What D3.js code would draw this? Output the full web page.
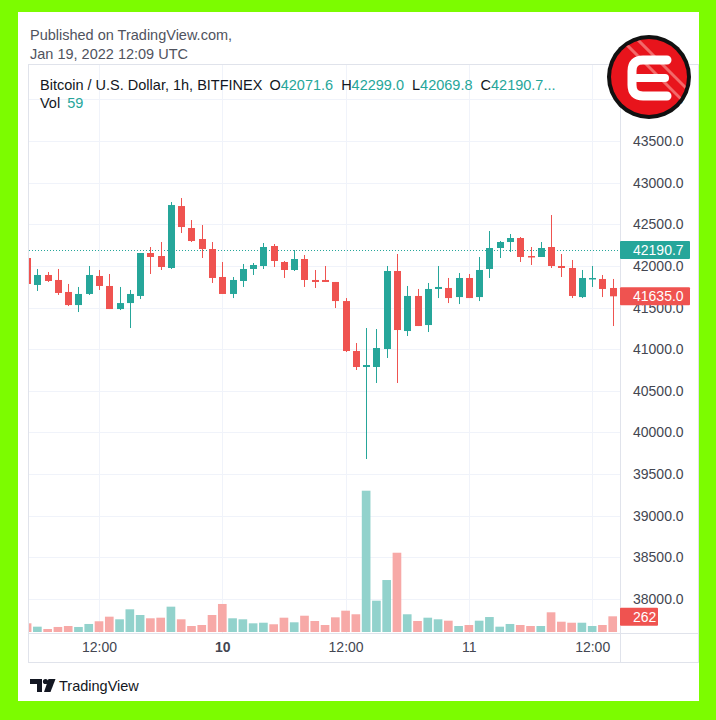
<!DOCTYPE html>
<html>
<head>
<meta charset="utf-8">
<script src="https://cdn.jsdelivr.net/npm/d3@7"></script>
<style>
  body { margin: 0; background: #7cfc00; }
  svg { display: block; }
  text { font-family: "Liberation Sans", Arial, sans-serif; }
</style>
</head>
<body>
<svg width="716" height="720"></svg>
<script>
// hourly bars, BTC/USD Bitfinex
var hours = [
  "2022-01-09T05:00Z","2022-01-09T06:00Z","2022-01-09T07:00Z","2022-01-09T08:00Z","2022-01-09T09:00Z",
  "2022-01-09T10:00Z","2022-01-09T11:00Z","2022-01-09T12:00Z","2022-01-09T13:00Z","2022-01-09T14:00Z",
  "2022-01-09T15:00Z","2022-01-09T16:00Z","2022-01-09T17:00Z","2022-01-09T18:00Z","2022-01-09T19:00Z",
  "2022-01-09T20:00Z","2022-01-09T21:00Z","2022-01-09T22:00Z","2022-01-09T23:00Z","2022-01-10T00:00Z",
  "2022-01-10T01:00Z","2022-01-10T02:00Z","2022-01-10T03:00Z","2022-01-10T04:00Z","2022-01-10T05:00Z",
  "2022-01-10T06:00Z","2022-01-10T07:00Z","2022-01-10T08:00Z","2022-01-10T09:00Z","2022-01-10T10:00Z",
  "2022-01-10T11:00Z","2022-01-10T12:00Z","2022-01-10T13:00Z","2022-01-10T14:00Z","2022-01-10T15:00Z",
  "2022-01-10T16:00Z","2022-01-10T17:00Z","2022-01-10T18:00Z","2022-01-10T19:00Z","2022-01-10T20:00Z",
  "2022-01-10T21:00Z","2022-01-10T22:00Z","2022-01-10T23:00Z","2022-01-11T00:00Z","2022-01-11T01:00Z",
  "2022-01-11T02:00Z","2022-01-11T03:00Z","2022-01-11T04:00Z","2022-01-11T05:00Z","2022-01-11T06:00Z",
  "2022-01-11T07:00Z","2022-01-11T08:00Z","2022-01-11T09:00Z","2022-01-11T10:00Z","2022-01-11T11:00Z",
  "2022-01-11T12:00Z","2022-01-11T13:00Z","2022-01-11T14:00Z"
]
var opens = [42095,41771,41891,41831,41687,41530,41663,41879,41759,41482,41554,41639,42155,42119,41975,
  42719,42455,42323,42203,41867,41663,41819,41963,41999,42239,42047,41951,42083,41831,41831,41807,41578,
  40978,40786,40786,41002,41939,41218,41639,41290,41723,41735,41626,41855,41626,41963,42215,42287,42335,
  42119,42107,42227,41999,41975,41626,41843,41843,41735]
var highs = [42119,41963,41927,41963,41783,41747,41999,41951,41903,41747,41711,42155,42227,42287,42767,
  42815,42551,42491,42287,42047,41867,42023,42035,42275,42263,42059,42191,42131,41951,41999,41807,41614,
  41074,41254,41242,41999,42143,41759,41723,41795,41999,41855,41915,41903,42107,42419,42299,42383,42347,
  42227,42287,42611,42143,42071,41951,41999,41891,41843]
var lows = [41759,41699,41807,41651,41518,41446,41651,41711,41482,41470,41254,41602,41903,41951,41963,
  42395,42287,42095,41795,41663,41614,41747,41891,41963,41987,41855,41939,41747,41735,41807,41494,40966,
  40750,39681,40594,40894,40594,41158,41278,41206,41614,41554,41542,41614,41578,41855,42095,42167,42047,
  42011,42107,41975,41867,41614,41614,41747,41626,41278]
var closes = [41783,41891,41819,41675,41530,41663,41891,41759,41482,41554,41663,42155,42107,41987,42731,
  42467,42299,42203,41855,41663,41831,41963,42011,42227,42059,41951,42083,41831,41807,41807,41578,40978,
  40786,40810,41014,41939,41230,41639,41278,41723,41747,41614,41855,41614,41951,42215,42287,42335,42107,
  42107,42215,41999,41975,41639,41855,41855,41723,41635]
var volumes = [145,89,50,84,100,84,134,179,256,212,379,284,229,239,423,212,100,117,284,468,
  229,212,145,155,129,239,162,272,184,117,245,356,296,2360,523,868,1324,296,184,239,
  212,189,100,117,189,250,89,134,117,100,100,329,172,155,155,100,117,262]

var priceTicks = [38000,38500,39000,39500,40000,40500,41000,41500,42000,42500,43000,43500,44000]
var timeTicks = ["2022-01-09T12:00Z","2022-01-10T00:00Z","2022-01-10T12:00Z","2022-01-11T00:00Z","2022-01-11T12:00Z"]
var timeLabels = ["12:00","10","12:00","11","12:00"]
var lastPrice = 42190.7
var lastClose = 41635.0
var lastVol = 262

var up = "#26a69a", down = "#ef5350"
var upVol = "#92d2cc", downVol = "#f7a9a7"
var gridColor = "#f0f3fa"

var bars = hours.map((h, i) => ({t: new Date(h), o: opens[i], h: highs[i], l: lows[i], c: closes[i], v: volumes[i]}))

var pL = 29, pR = 620, pT = 64, pB = 633

var xScale = d3.scaleTime()
  .domain([new Date("2022-01-10T00:00Z"), new Date("2022-01-11T14:00Z")])
  .range([222.3, 612.7])
var yScale = d3.scaleLinear().domain([38000, 43500]).range([599, 141])
var vScale = d3.scaleLinear().domain([0, 2400]).range([632, 488.3])

var svg = d3.select("svg")

// lime frame + white card
svg.append("rect").attr("width", 716).attr("height", 720).attr("fill", "#7cfc00")
svg.append("rect").attr("x", 18).attr("y", 12).attr("width", 681).attr("height", 689).attr("fill", "#fff")

svg.append("text").attr("x", 30).attr("y", 40).attr("font-size", 14.5).attr("fill", "#50535e")
  .text("Published on TradingView.com,")
svg.append("text").attr("x", 30).attr("y", 59).attr("font-size", 14.5).attr("fill", "#50535e")
  .text("Jan 19, 2022 12:09 UTC")

svg.append("defs").append("clipPath").attr("id", "plot")
  .append("rect").attr("x", pL).attr("y", pT).attr("width", pR - pL).attr("height", pB - pT)

// grid
var grid = svg.append("g")
grid.selectAll("line.h").data(priceTicks).enter().append("line")
  .attr("x1", pL).attr("x2", pR)
  .attr("y1", d => Math.round(yScale(d)) + 0.5).attr("y2", d => Math.round(yScale(d)) + 0.5)
  .attr("stroke", gridColor)
grid.selectAll("line.v").data(timeTicks).enter().append("line")
  .attr("x1", d => Math.round(xScale(new Date(d))) + 0.5).attr("x2", d => Math.round(xScale(new Date(d))) + 0.5)
  .attr("y1", pT).attr("y2", pB)
  .attr("stroke", gridColor)

var plot = svg.append("g").attr("clip-path", "url(#plot)")

// volume
var step = xScale(new Date("2022-01-10T01:00Z")) - xScale(new Date("2022-01-10T00:00Z"))
plot.selectAll("rect.vol").data(bars).enter().append("rect")
  .attr("x", d => xScale(d.t) - step / 2 + 0.8)
  .attr("width", step - 1.6)
  .attr("y", d => vScale(d.v))
  .attr("height", d => vScale(0) - vScale(d.v))
  .attr("fill", d => d.c >= d.o ? upVol : downVol)

// last price line
plot.append("line")
  .attr("x1", pL).attr("x2", pR)
  .attr("y1", Math.round(yScale(lastPrice)) + 0.5).attr("y2", Math.round(yScale(lastPrice)) + 0.5)
  .attr("stroke", up).attr("stroke-dasharray", "1,2")

// candles
var candles = plot.selectAll("g.candle").data(bars).enter().append("g")
candles.append("line")
  .attr("x1", d => Math.round(xScale(d.t)) + 0.5).attr("x2", d => Math.round(xScale(d.t)) + 0.5)
  .attr("y1", d => yScale(d.h)).attr("y2", d => yScale(d.l))
  .attr("stroke", d => d.c >= d.o ? up : down)
candles.append("rect")
  .attr("x", d => Math.round(xScale(d.t)) - 3)
  .attr("width", 7)
  .attr("y", d => yScale(Math.max(d.o, d.c)))
  .attr("height", d => Math.max(1.5, Math.abs(yScale(d.o) - yScale(d.c))))
  .attr("fill", d => d.c >= d.o ? up : down)

// pane borders
svg.append("rect").attr("x", 28.5).attr("y", 64.5).attr("width", 670).attr("height", 598)
  .attr("fill", "none").attr("stroke", "#e0e3eb")
svg.append("line").attr("x1", pR + 0.5).attr("x2", pR + 0.5).attr("y1", 64).attr("y2", 663).attr("stroke", "#e0e3eb")
svg.append("line").attr("x1", 28).attr("x2", 698).attr("y1", pB + 0.5).attr("y2", pB + 0.5).attr("stroke", "#e0e3eb")

// price axis
var yAxis = d3.axisRight(yScale).tickValues(priceTicks).tickSize(0).tickPadding(0).tickFormat(d3.format(".1f"))
var ya = svg.append("g").attr("transform", "translate(633,0)").call(yAxis)
ya.select(".domain").remove()
ya.selectAll("text").attr("font-size", 14).attr("fill", "#434651").attr("font-family", null)

// time axis
var xAxis = d3.axisBottom(xScale).tickValues(timeTicks.map(d => new Date(d))).tickSize(0).tickPadding(0)
  .tickFormat((d, i) => timeLabels[i])
var xa = svg.append("g").attr("transform", "translate(0,642)").call(xAxis)
xa.select(".domain").remove()
xa.selectAll("text").attr("font-size", 14).attr("fill", "#434651").attr("font-family", null)
  .attr("font-weight", (d, i) => timeLabels[i] == "10" ? "bold" : null)
  .attr("dy", "0.71em")

// axis price labels
function tag(y, w, txt, col) {
  svg.append("rect").attr("x", 620).attr("y", y - 9).attr("width", w).attr("height", 18).attr("rx", 1).attr("fill", col)
  svg.append("text").attr("x", 633).attr("y", y + 5).attr("font-size", 14).attr("fill", "#fff").text(txt)
}
tag(yScale(lastPrice), 70, d3.format(".1f")(lastPrice), up)
tag(yScale(lastClose), 70, d3.format(".1f")(lastClose), down)
tag(vScale(lastVol) + 0.5, 38, lastVol, down)

// legend
var lg = svg.append("text").attr("x", 40).attr("y", 90).attr("font-size", 14.5).attr("fill", "#131722")
lg.append("tspan").text("Bitcoin / U.S. Dollar, 1h, BITFINEX")
var ohlc = [["O", "42071.6"], ["H", "42299.0"], ["L", "42069.8"], ["C", "42190.7..."]]
ohlc.forEach((p, i) => {
  lg.append("tspan").attr("dx", i == 0 ? 7 : 8).text(p[0])
  lg.append("tspan").attr("fill", up).text(p[1])
})
var vl = svg.append("text").attr("x", 40).attr("y", 108).attr("font-size", 14.5).attr("fill", "#131722")
vl.append("tspan").text("Vol")
vl.append("tspan").attr("dx", 7).attr("fill", up).text("59")

// TradingView footer
var tv = svg.append("g").attr("fill", "#131722")
tv.append("path").attr("d", "M30,679 H42 V692 H37 V684 H30 Z")
tv.append("circle").attr("cx", 45.5).attr("cy", 681.5).attr("r", 2.6)
tv.append("path").attr("d", "M48.5,679 H55.5 L50.5,692 H44 Z")
svg.append("text").attr("x", 59).attr("y", 690.5).attr("font-size", 14.5).attr("fill", "#131722")
  .text("TradingView")

// corner badge
var bx = 649, by = 77
var badge = svg.append("g")
badge.append("clipPath").attr("id", "badge").append("circle").attr("cx", bx).attr("cy", by).attr("r", 38)
badge.append("circle").attr("cx", bx).attr("cy", by).attr("r", 42).attr("fill", "#111")
badge.append("circle").attr("cx", bx).attr("cy", by).attr("r", 38).attr("fill", "#e8141c")
var stripes = badge.append("g").attr("clip-path", "url(#badge)").attr("stroke", "#f26a6a").attr("stroke-width", 3)
stripes.append("line").attr("x1", bx - 30).attr("y1", by - 40).attr("x2", bx + 40).attr("y2", by + 30)
stripes.append("line").attr("x1", bx - 20).attr("y1", by - 46).attr("x2", bx + 46).attr("y2", by + 20)
badge.append("path")
  .attr("d", "M" + (bx + 18) + "," + (by - 17) + " H" + (bx - 6) + " Q" + (bx - 17) + "," + (by - 17) + " " + (bx - 17) + "," + (by - 6) +
    " V" + (by + 8) + " Q" + (bx - 17) + "," + (by + 19) + " " + (bx - 6) + "," + (by + 19) + " H" + (bx + 18))
  .attr("fill", "none").attr("stroke", "#fff").attr("stroke-width", 9).attr("stroke-linecap", "round").attr("stroke-linejoin", "round")
badge.append("line").attr("x1", bx - 12).attr("x2", bx + 16).attr("y1", by + 1).attr("y2", by + 1)
  .attr("stroke", "#fff").attr("stroke-width", 8).attr("stroke-linecap", "round")
</script>
</body>
</html>
